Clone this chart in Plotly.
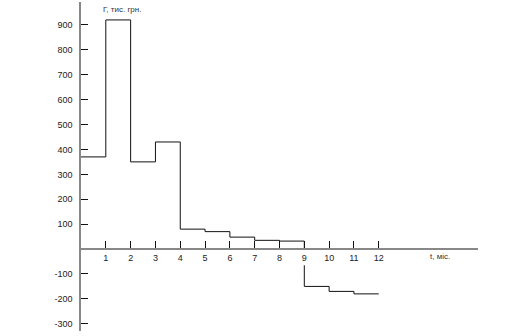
import plotly.graph_objects as go

# Data
months_pos = [0, 1, 2, 3, 4, 5, 6, 7, 8, 9, 9]
values_pos = [370, 920, 350, 430, 80, 70, 48, 35, 32, 32, 0]
months_neg = [9, 9, 10, 11, 12]
values_neg = [-65, -150, -170, -180, -180]
x_ticks = [1, 2, 3, 4, 5, 6, 7, 8, 9, 10, 11, 12]
y_ticks = [-300, -200, -100, 100, 200, 300, 400, 500, 600, 700, 800, 900]
y_label = "Г, тис. грн."
x_label = "t, міс."

y_min, y_max = -329, 992
x_pos = (0 - y_min) / (y_max - y_min)

fig = go.Figure()
line_style = dict(color="#111111", width=1, shape="hv")
fig.add_trace(go.Scatter(x=months_pos, y=values_pos, mode="lines", line=line_style,
                         hoverinfo="skip", showlegend=False))
fig.add_trace(go.Scatter(x=months_neg, y=values_neg, mode="lines", line=line_style,
                         hoverinfo="skip", showlegend=False))

font = dict(family="Liberation Sans, Arial, sans-serif", size=9, color="#222222")

fig.update_layout(
    width=511, height=336,
    margin=dict(l=81, r=33, t=2, b=5),
    paper_bgcolor="white", plot_bgcolor="white",
    font=font,
    xaxis=dict(range=[0, 16], showgrid=False, zeroline=False,
               showline=True, linecolor="#888888", linewidth=1.5,
               anchor="free", position=x_pos,
               tickmode="array", tickvals=x_ticks, ticktext=[str(v) for v in x_ticks],
               ticks="inside", ticklen=7, tickwidth=1, tickcolor="#111111",
               tickfont=font),
    yaxis=dict(range=[y_min, y_max], showgrid=False, zeroline=False,
               showline=True, linecolor="#888888", linewidth=1.5,
               tickmode="array", tickvals=y_ticks, ticktext=[str(v) for v in y_ticks],
               ticks="inside", ticklen=7, tickwidth=1, tickcolor="#111111",
               ticklabelstandoff=5, tickfont=font),
    annotations=[
        dict(x=1.65, y=960, xref="x", yref="y", text=y_label, showarrow=False,
             font=dict(family="Liberation Sans, Arial, sans-serif", size=8, color="#333333")),
        dict(x=14.45, y=-31, xref="x", yref="y", text=x_label, showarrow=False,
             font=dict(family="Liberation Sans, Arial, sans-serif", size=8, color="#333333")),
    ],
)

fig.write_html("out.html")
